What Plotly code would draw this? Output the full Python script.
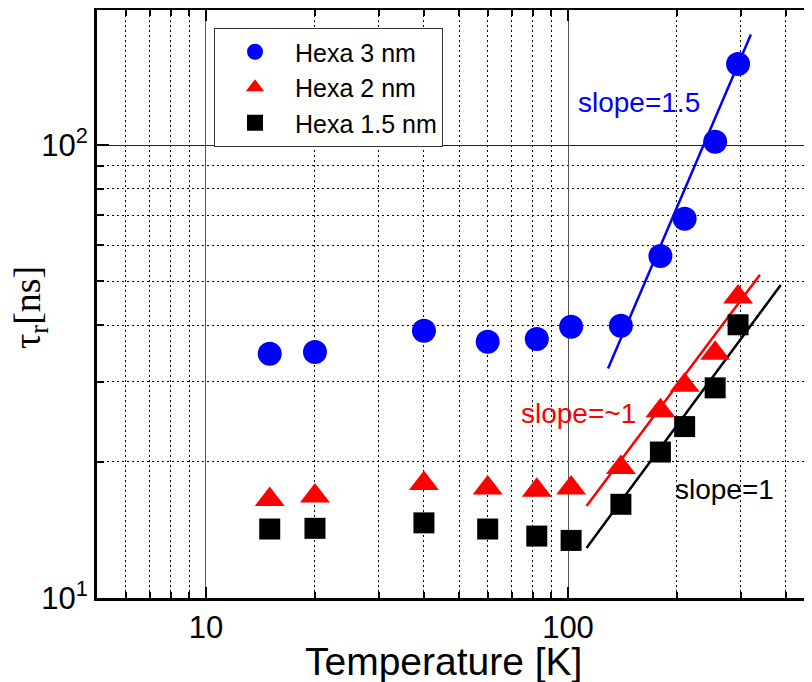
import numpy as np
import plotly.graph_objects as go

# ---- data ----
temperature = [15, 20, 40, 60, 82, 102, 140, 180, 210, 255, 295]
tau_hexa_3nm = [34.6, 34.9, 38.9, 36.8, 37.3, 39.7, 39.9, 56.9, 68.7, 101.7, 151]
tau_hexa_2nm = [16.5, 16.8, 17.9, 17.5, 17.3, 17.5, 19.4, 25.9, 29.5, 34.7, 46.2]
tau_hexa_15nm = [14.2, 14.25, 14.65, 14.2, 13.7, 13.4, 16.1, 21.0, 23.9, 29.1, 40.1]

fit_3nm_T = [129, 320]
fit_3nm_tau = [32.1, 175.4]
fit_2nm_T = [112.5, 339]
fit_2nm_tau = [15.96, 51.7]
fit_15nm_T = [112.5, 387]
fit_15nm_tau = [12.9, 49.1]

x_tickvals = [10, 100]
x_ticktext = ["10", "100"]
y_tickvals = [10, 100]
y_ticktext = ["10<sup>1</sup>", "10<sup>2</sup>"]

SANS = "Liberation Sans, Arial, sans-serif"
SERIF = "Liberation Serif, Times New Roman, serif"

fig = go.Figure()

# fit lines
for xs, ys, col in [(fit_3nm_T, fit_3nm_tau, "#0000FF"),
                    (fit_2nm_T, fit_2nm_tau, "#FF0000"),
                    (fit_15nm_T, fit_15nm_tau, "#000000")]:
    fig.add_trace(go.Scatter(x=xs, y=ys, mode="lines", showlegend=False,
                             line=dict(color=col, width=2.5), hoverinfo="skip"))

# markers
fig.add_trace(go.Scatter(x=temperature, y=tau_hexa_3nm, mode="markers", name="Hexa 3 nm",
                         marker=dict(symbol="circle", size=24, color="#0000FF")))
fig.add_trace(go.Scatter(x=temperature, y=tau_hexa_2nm, mode="markers", name="Hexa 2 nm",
                         marker=dict(symbol="triangle-up", size=26, color="#FF0000")))
fig.add_trace(go.Scatter(x=temperature, y=tau_hexa_15nm, mode="markers", name="Hexa 1.5 nm",
                         marker=dict(symbol="square", size=21, color="#000000")))

# the page body adds an 8px margin; figure coordinates = page coordinates - 8
OFF = 8
W, H = 812 - OFF, 682 - OFF
L, R, T, B = 97 - OFF, 0, 10 - OFF, 84
pw, ph = W - L - R, H - T - B

def px2paper(px, py):
    fx, fy = px - OFF, py - OFF
    return (fx - L) / pw, (H - B - fy) / ph

leg = px2paper(214, 28)
fig.update_layout(
    width=W, height=H,
    margin=dict(l=L, r=R, t=T, b=B, autoexpand=False),
    paper_bgcolor="white", plot_bgcolor="white",
    font=dict(family=SANS, color="black"),
    showlegend=True,
    legend=dict(
        x=leg[0], y=leg[1],
        xanchor="left", yanchor="top",
        bgcolor="white", bordercolor="#333333", borderwidth=1,
        font=dict(family=SANS, size=25, color="black"),
        itemwidth=70, tracegroupgap=0,
    ),
)

fig.update_xaxes(
    type="log", range=[np.log10(5), 2.674],
    tickmode="array", tickvals=x_tickvals, ticktext=x_ticktext,
    tickfont=dict(family=SANS, size=31, color="black"),
    ticks="inside", ticklen=11, tickwidth=2, tickcolor="black",
    showline=True, linecolor="black", linewidth=3, mirror="ticks",
    showgrid=True, gridcolor="#555555", gridwidth=1,
    zeroline=False,
    minor=dict(dtick="D1", ticks="inside", ticklen=6, tickwidth=1.5, tickcolor="black",
               showgrid=True, gridcolor="black", gridwidth=1, griddash="2px,3px"),
)
fig.update_yaxes(
    type="log", range=[1, 2.298],
    tickmode="array", tickvals=y_tickvals, ticktext=y_ticktext,
    tickfont=dict(family=SANS, size=31, color="black"),
    ticks="inside", ticklen=12, tickwidth=2, tickcolor="black",
    showline=True, linecolor="black", linewidth=3, mirror=False,
    showgrid=True, gridcolor="#222222", gridwidth=1,
    zeroline=False,
    minor=dict(dtick="D1", ticks="inside", ticklen=7, tickwidth=1.5, tickcolor="black",
               showgrid=True, gridcolor="black", gridwidth=1, griddash="2px,3px"),
)

# axis titles as annotations
xt = px2paper(443, 661)
yt = px2paper(30, 308)
fig.add_annotation(text="Temperature [K]", xref="paper", yref="paper", x=xt[0], y=xt[1],
                   xanchor="center", yanchor="middle", showarrow=False,
                   font=dict(family=SANS, size=39, color="black"))
fig.add_annotation(text="τ<sub>r</sub>[ns]", xref="paper", yref="paper", x=yt[0], y=yt[1],
                   xanchor="center", yanchor="middle", showarrow=False, textangle=-90,
                   font=dict(family=SERIF, size=38, color="black"))

# slope labels (data coordinates, log axes -> log10 values)
slope_labels = [("slope=1.5", 157, 123.8, "#0000FF"),
                ("slope=~1", 107.2, 25.6, "#FF0000"),
                ("slope=1", 270, 17.4, "#000000")]
for txt, xv, yv, col in slope_labels:
    fig.add_annotation(text=txt, x=np.log10(xv), y=np.log10(yv), xref="x", yref="y",
                       showarrow=False, xanchor="center", yanchor="middle",
                       font=dict(family=SANS, size=28, color=col))

fig.write_html("out.html")
